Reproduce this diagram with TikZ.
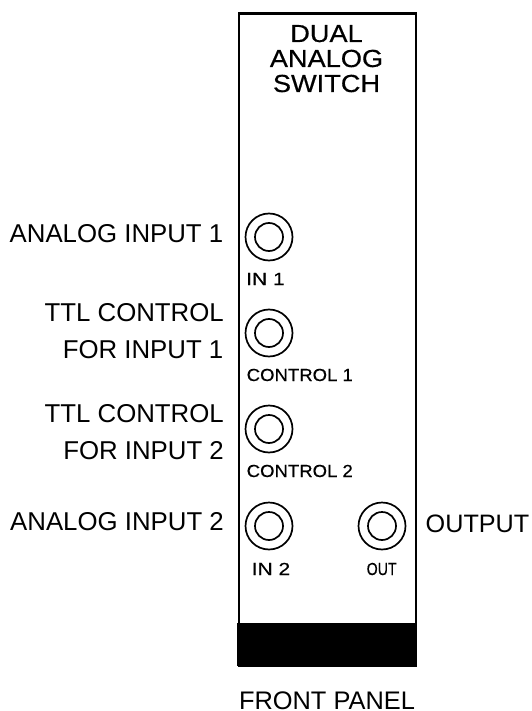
\documentclass[tikz,border=0pt]{standalone}
\usepackage{fontspec}
\setmainfont{Liberation Sans}
\newfontfamily\titlefam[FakeStretch=1.1,FakeBold=0.5]{Liberation Sans}
\newfontfamily\ctrlfam[FakeStretch=1.06,FakeBold=0.4]{Liberation Sans}
\newfontfamily\infam[FakeStretch=1.2,FakeBold=0.4]{Liberation Sans}
\newfontfamily\outfam[FakeStretch=0.81,FakeBold=0.4]{Liberation Sans}
\begin{document}
\begin{tikzpicture}[x=1pt,y=-1pt,
  side/.style={inner sep=0pt,font=\fontsize{25.8}{28}\selectfont,text=black},
  titletext/.style={inner sep=0pt,font=\titlefam\fontsize{24.7}{25}\selectfont},
  jacklabel/.style={inner sep=0pt},
  ctrl/.style={jacklabel,font=\ctrlfam\fontsize{17.5}{19}\selectfont},
  inl/.style={jacklabel,font=\infam\fontsize{17.5}{19}\selectfont},
  outl/.style={jacklabel,font=\outfam\fontsize{17.5}{19}\selectfont},
  outerring/.style={circle,draw,line width=1.7pt,minimum size=47pt,inner sep=0pt},
  innerring/.style={circle,draw,line width=1.7pt,minimum size=28pt,inner sep=0pt}]
\useasboundingbox (0,0) rectangle (531,711);
\fill[white] (0,0) rectangle (531,711);
\node[draw,line width=2.2pt,minimum width=177pt,minimum height=652pt,inner sep=0pt,anchor=north west] (panel) at (237.5,12.5) {};
\fill[black] (236.5,623) rectangle (415.5,665.5);
\node[titletext,anchor=base] (title1) at (326.5,42) {DUAL};
\node[titletext,anchor=base] (title2) at (326.5,67) {ANALOG};
\node[titletext,anchor=base] (title3) at (326.5,92) {SWITCH};
\foreach \n/\x/\y in {a/269/237,b/269/333,c/269/429,d/269/526,e/382/526}{
  \node[outerring] (o\n) at (\x,\y) {};
  \node[innerring] (i\n) at (\x,\y) {};
}
\node[inl,anchor=base west] (l1) at (246,285) {IN 1};
\node[ctrl,anchor=base west] (l2) at (246.5,381) {CONTROL 1};
\node[ctrl,anchor=base west] (l3) at (246.5,477) {CONTROL 2};
\node[inl,anchor=base west] (l4) at (251.5,575) {IN 2};
\node[outl,anchor=base west] (l5) at (366.5,575) {OUT};
\node[side,anchor=base east] (t1) at (223.5,242) {ANALOG INPUT 1};
\node[side,anchor=base east] (t2) at (224,321) {TTL CONTROL};
\node[side,anchor=base east] (t3) at (223.5,358) {FOR INPUT 1};
\node[side,anchor=base east] (t4) at (224,422) {TTL CONTROL};
\node[side,anchor=base east] (t5) at (224,459) {FOR INPUT 2};
\node[side,anchor=base east] (t6) at (224,530) {ANALOG INPUT 2};
\node[side,anchor=base west,font=\fontsize{25.2}{28}\selectfont] (t7) at (425.5,532) {OUTPUT};
\node[side,anchor=base,font=\fontsize{25.4}{28}\selectfont] (t8) at (327,709) {FRONT PANEL};
\end{tikzpicture}
\end{document}
